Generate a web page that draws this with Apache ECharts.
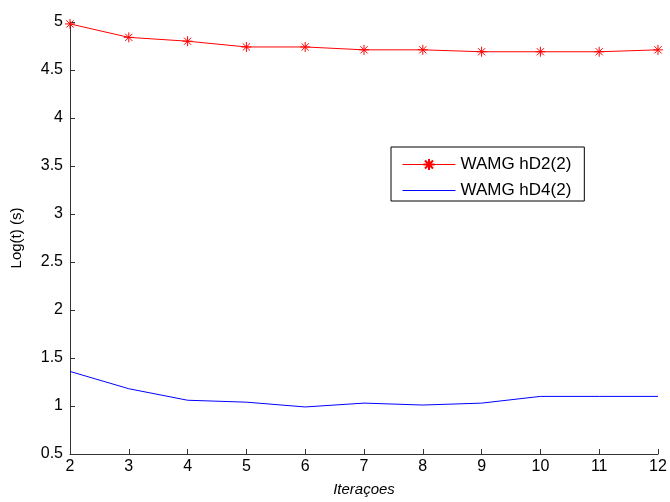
<!DOCTYPE html>
<html><head><meta charset="utf-8">
<script src="https://cdn.jsdelivr.net/npm/echarts@6/dist/echarts.min.js"></script>
<style>html,body{margin:0;padding:0;background:#fff}#c{width:670px;height:502px}</style>
</head><body><div id="c"></div>
<script>
const iterations = [2,3,4,5,6,7,8,9,10,11,12];
const hD2 = [4.98,4.84,4.80,4.74,4.74,4.71,4.71,4.69,4.69,4.69,4.71];
const hD4 = [1.36,1.18,1.06,1.04,0.99,1.03,1.01,1.03,1.10,1.10,1.10];
const seriesNames = ['WAMG hD2(2)','WAMG hD4(2)'];
const yTicks = [0.5,1,1.5,2,2.5,3,3.5,4,4.5,5];

const star = 'path://M0,-5L0,5M-5,0L5,0M-3.6,-3.6L3.6,3.6M-3.6,3.6L3.6,-3.6';
const font = 'Liberation Sans, Arial, sans-serif';
const chart = echarts.init(document.getElementById('c'));
chart.setOption({
  animation:false,
  grid:{left:70,right:12,top:22,bottom:45},
  xAxis:{type:'value',min:2,max:12,interval:1,
    axisLine:{lineStyle:{color:'#333',width:1}},
    axisTick:{inside:true,length:5,lineStyle:{color:'#333'}},
    axisLabel:{color:'#000',fontSize:16,fontFamily:font,margin:5},
    splitLine:{show:false},
    name:'Iteraçoes',nameLocation:'middle',nameGap:28,
    nameTextStyle:{color:'#000',fontSize:15,fontStyle:'italic',fontFamily:font}},
  yAxis:{type:'value',min:0.5,max:5,interval:0.5,
    axisLine:{show:true,lineStyle:{color:'#333',width:1}},
    axisTick:{show:true,inside:true,length:5,lineStyle:{color:'#333'}},
    axisLabel:{color:'#000',fontSize:16,fontFamily:font,margin:7},
    splitLine:{show:false},
    name:'Log(t) (s)',nameLocation:'middle',nameGap:46,
    nameTextStyle:{color:'#000',fontSize:15,fontFamily:font}},
  legend:{left:391,top:147,orient:'vertical',
    backgroundColor:'#fff',borderColor:'#000',borderWidth:1,
    padding:[9,13,2,11],itemGap:9,itemWidth:53,itemHeight:14,
    lineStyle:{width:1},
    textStyle:{color:'#000',fontSize:17,fontFamily:font},
    data:[{name:seriesNames[0]},{name:seriesNames[1],itemStyle:{opacity:0}}]},
  series:[
    {name:seriesNames[0],type:'line',data:iterations.map((x,i)=>[x,hD2[i]]),
      symbol:star,symbolSize:10,showAllSymbol:true,
      itemStyle:{color:'#ff0000',borderColor:'#ff0000',borderWidth:1},
      lineStyle:{color:'#ff0000',width:1}},
    {name:seriesNames[1],type:'line',data:iterations.map((x,i)=>[x,hD4[i]]),
      symbol:'none',itemStyle:{color:'#0000ff'},
      lineStyle:{color:'#0000ff',width:1}}
  ]
});
</script></body></html>
